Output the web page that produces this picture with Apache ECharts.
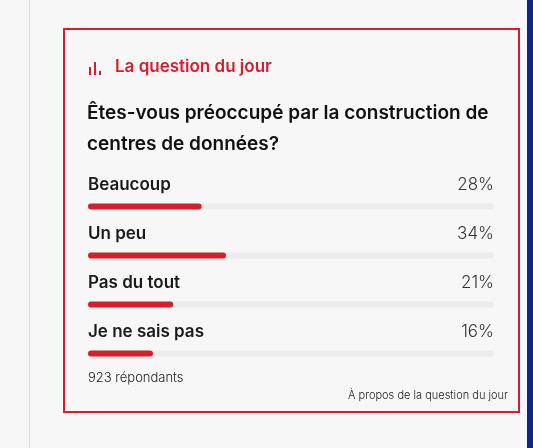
<!DOCTYPE html>
<html><head><meta charset="utf-8">
<script src="https://cdn.jsdelivr.net/npm/echarts@6/dist/echarts.min.js"></script>
<style>html,body{margin:0;padding:0;background:#f7f7f7}#c{width:533px;height:448px}</style>
</head><body><div id="c"></div>
<script>
// Poll data
const categories = ['Beaucoup', 'Un peu', 'Pas du tout', 'Je ne sais pas'];
const percents = [28, 34, 21, 16];
const totalValues = [100, 100, 100, 100];

const red = '#d71f2c';
const font = 'Inter, "Noto Sans", sans-serif';
const chart = echarts.init(document.getElementById('c'));

chart.setOption({
    backgroundColor: '#f7f7f7',
    animation: false,
    grid: { left: 88, right: 39, top: 182, bottom: 70 },
    xAxis: { type: 'value', min: 0, max: 100, show: false },
    yAxis: { type: 'category', data: categories, inverse: true, show: false },
    series: [{
        type: 'bar',
        data: percents,
        barWidth: 6,
        showBackground: true,
        backgroundStyle: { color: '#ececec', borderRadius: 3 },
        itemStyle: { color: red, borderRadius: 3 },
        label: {
            show: true,
            position: [0, -27],
            formatter: p => categories[p.dataIndex],
            color: '#1a1a1a', fontFamily: font, fontSize: 17, fontWeight: 600
        }
    }, {
        type: 'bar',
        data: totalValues,
        barWidth: 6,
        barGap: '-100%',
        itemStyle: { color: 'transparent' },
        label: {
            show: true,
            position: ['100%', -27],
            align: 'right',
            formatter: p => percents[p.dataIndex] + '%',
            color: '#333', fontFamily: font, fontSize: 17, fontWeight: 300
        }
    }],
    graphic: [
        { type: 'rect', shape: { x: 29, y: 0, width: 1, height: 448 }, style: { fill: '#dcdcdc' } },
        { type: 'rect', shape: { x: 527, y: 0, width: 6, height: 448 }, style: { fill: '#13238a' } },
        { type: 'rect', shape: { x: 64, y: 29, width: 455, height: 383 }, style: { fill: 'none', stroke: red, lineWidth: 2 } },
        // icon
        { type: 'rect', shape: { x: 89, y: 67, width: 2, height: 8 }, style: { fill: red } },
        { type: 'rect', shape: { x: 94, y: 62, width: 2, height: 13 }, style: { fill: red } },
        { type: 'rect', shape: { x: 99, y: 71, width: 2, height: 4 }, style: { fill: red } },
        { type: 'text', left: 115, top: 58, style: { text: 'La question du jour', fill: red, font: '600 17px ' + font } },
        { type: 'text', left: 87, top: 98, style: { text: 'Êtes-vous préoccupé par la construction de\ncentres de données?', fill: '#111', font: '600 19px ' + font, lineHeight: 31 } },
        { type: 'text', left: 88, top: 372, style: { text: '923 répondants', fill: '#222', font: '300 13px ' + font } },
        { type: 'text', right: 25, top: 390, style: { text: 'À propos de la question du jour', fill: '#222', font: '300 11px ' + font } }
    ]
});
</script></body></html>
